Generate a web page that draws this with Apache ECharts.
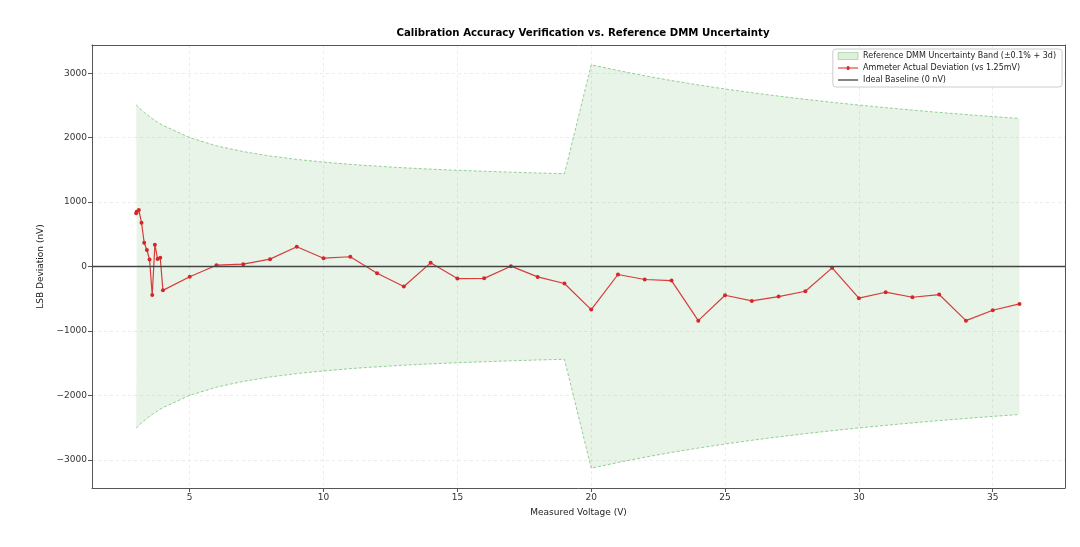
<!DOCTYPE html>
<html style="height: 100%">
<head>
    <meta charset="UTF-8">
    <script src="https://cdn.jsdelivr.net/npm/echarts@6/dist/echarts.min.js"></script>
</head>
<body style="margin: 0; background-color: #ffffff">
    <div id="paint" style="width: 1080px; height: 547px;"></div>
<script>
    // measured points (V)
    var voltage = [3.0, 3.02, 3.1, 3.2, 3.3, 3.4, 3.5, 3.6, 3.7, 3.8, 3.9, 4.0,
        5, 6, 7, 8, 9, 10, 11, 12, 13, 14, 15, 16, 17, 18, 19,
        20, 21, 22, 23, 24, 25, 26, 27, 28, 29, 30, 31, 32, 33, 34, 35, 36];
    // ammeter deviation (nV)
    var deviation = [826, 848, 876, 680, 368, 256, 109, -444, 338, 118, 135, -370,
        -158, 20, 36, 114, 306, 129, 151, -104, -311, 57, -187, -184, 5, -161, -264,
        -669, -124, -202, -218, -840, -446, -534, -467, -384, -21, -492, -399, -477, -435, -840, -679, -580];
    // DMM uncertainty band edges (nV)
    var bandUpper = [2507, 2498, 2466, 2428, 2392, 2358, 2326, 2296, 2267, 2240, 2214, 2190,
        2000, 1873, 1783, 1715, 1662, 1620, 1585, 1557, 1532, 1511, 1493, 1478, 1464, 1451, 1440,
        3130, 3041, 2960, 2885, 2818, 2755, 2697, 2644, 2594, 2548, 2505, 2465, 2427, 2391, 2358, 2326, 2297];
    var bandLower = [-2507, -2498, -2466, -2428, -2392, -2358, -2326, -2296, -2267, -2240, -2214, -2190,
        -2000, -1873, -1783, -1715, -1662, -1620, -1585, -1557, -1532, -1511, -1493, -1478, -1464, -1451, -1440,
        -3130, -3041, -2960, -2885, -2818, -2755, -2697, -2644, -2594, -2548, -2505, -2465, -2427, -2391, -2358, -2326, -2297];

    var bandName = 'Reference DMM Uncertainty Band (\u00b10.1% + 3d)';
    var devName = 'Ammeter Actual Deviation (vs 1.25mV)';
    var baseName = 'Ideal Baseline (0 nV)';

    function pairs(ys) {
        return voltage.map(function (v, i) { return [v, ys[i]]; });
    }

    var font = 'DejaVu Sans';
    var bandFill = 'rgba(0,128,0,0.13)';
    var bandEdge = 'rgba(40,160,40,0.6)';
    var frame = '#555';
    var grid = {color: '#e8e8e8', type: [3, 3], width: 0.8};

    echarts.init(document.getElementById('paint')).setOption({
        animation: false,
        backgroundColor: '#ffffff',
        textStyle: {fontFamily: font},
        title: {
            text: 'Calibration Accuracy Verification vs. Reference DMM Uncertainty',
            left: 578,
            textAlign: 'center',
            top: 23,
            textStyle: {fontSize: 10.2, fontWeight: 'bold', color: '#000', fontFamily: font}
        },
        legend: {
            orient: 'vertical',
            right: 18,
            top: 49,
            padding: [3, 6, 3, 5],
            itemGap: 4,
            itemWidth: 20,
            itemHeight: 7,
            borderColor: '#cccccc',
            borderWidth: 1,
            borderRadius: 3,
            backgroundColor: 'rgba(255,255,255,0.85)',
            textStyle: {fontSize: 8, color: '#222', fontFamily: font, padding: [1, 0, 0, 0]},
            data: [
                {name: bandName, icon: 'rect', itemStyle: {color: bandFill, borderColor: bandEdge, borderWidth: 0.5}},
                {name: devName, icon: 'path://M0,3.2H8.5A1.5,1.5 0 1 1 11.5,3.2H20V4.4H11.5A1.5,1.5 0 1 1 8.5,4.4H0Z'},
                {name: baseName, icon: 'path://M0,3.2H20V4.4H0Z'}
            ]
        },
        grid: {
            left: 92,
            right: 15,
            top: 45,
            bottom: 59
        },
        xAxis: [{
            type: 'value',
            min: 1.35,
            max: 37.7,
            splitNumber: 7,
            name: 'Measured Voltage (V)',
            nameLocation: 'middle',
            nameGap: 20,
            nameTextStyle: {fontSize: 9, color: '#222'},
            axisLine: {onZero: false, lineStyle: {color: frame}},
            axisTick: {length: 4, lineStyle: {color: frame}},
            axisLabel: {fontSize: 9, color: '#333', margin: 5, showMinLabel: false, showMaxLabel: false},
            splitLine: {show: true, lineStyle: grid}
        }, {
            type: 'value',
            position: 'top',
            min: 1.35,
            max: 37.7,
            axisLine: {show: true, onZero: false, lineStyle: {color: frame}},
            axisTick: {show: false},
            axisLabel: {show: false},
            splitLine: {show: false}
        }],
        yAxis: [{
            type: 'value',
            min: -3437,
            max: 3437,
            splitNumber: 7,
            name: 'LSB Deviation (nV)',
            nameLocation: 'middle',
            nameGap: 32,
            nameTextStyle: {fontSize: 9, color: '#222'},
            axisLine: {show: true, onZero: false, lineStyle: {color: frame}},
            axisTick: {show: true, length: 4, lineStyle: {color: frame}},
            axisLabel: {
                fontSize: 9, color: '#333', margin: 5, showMinLabel: false, showMaxLabel: false,
                formatter: function (v) { return v < 0 ? '\u2212' + Math.abs(v) : '' + v; }
            },
            splitLine: {show: true, lineStyle: grid}
        }, {
            type: 'value',
            position: 'right',
            min: -3437,
            max: 3437,
            axisLine: {show: true, onZero: false, lineStyle: {color: frame}},
            axisTick: {show: false},
            axisLabel: {show: false},
            splitLine: {show: false}
        }],
        series: [
            {
                name: bandName,
                type: 'line',
                data: pairs(bandUpper),
                symbol: 'none',
                z: 1,
                itemStyle: {color: bandFill},
                lineStyle: {color: bandEdge, width: 0.8, type: [3, 2]},
                areaStyle: {color: bandFill, origin: 0}
            },
            {
                name: bandName,
                type: 'line',
                data: pairs(bandLower),
                symbol: 'none',
                z: 1,
                itemStyle: {color: bandFill},
                lineStyle: {color: bandEdge, width: 0.8, type: [3, 2]},
                areaStyle: {color: bandFill, origin: 0}
            },
            {
                name: baseName,
                type: 'line',
                data: [],
                symbol: 'none',
                z: 2,
                itemStyle: {color: '#333'},
                lineStyle: {color: '#333', width: 1.3},
                markLine: {
                    silent: true,
                    symbol: 'none',
                    label: {show: false},
                    lineStyle: {color: '#444', width: 1.3, type: 'solid'},
                    data: [{yAxis: 0}]
                }
            },
            {
                name: devName,
                type: 'line',
                data: pairs(deviation),
                symbol: 'circle',
                symbolSize: 4,
                z: 3,
                itemStyle: {color: '#d62728'},
                lineStyle: {color: '#d62728', width: 1.2, opacity: 0.9}
            }
        ]
    });
</script>
</body>
</html>
